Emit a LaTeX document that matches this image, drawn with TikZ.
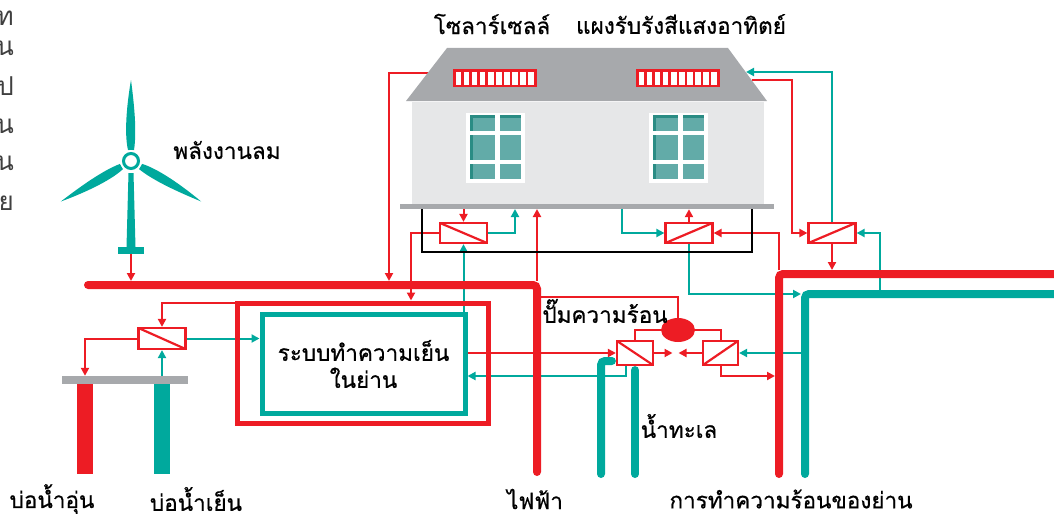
\documentclass[tikz,border=0pt]{standalone}
\usepackage{fontspec}
\newfontfamily\thai[Script=Thai, FakeBold=0.6]{Loma}
\newfontfamily\thaithin[Script=Thai]{Loma}
\usepackage{tikz}
\usetikzlibrary{arrows.meta}
\usetikzlibrary{calc}
\usetikzlibrary{shapes.geometric}

\definecolor{hot}{HTML}{ED1C24}
\definecolor{sea}{HTML}{00A99D}
\definecolor{roofgrey}{HTML}{A7A9AC}
\definecolor{wallgrey}{HTML}{E6E7E8}
\definecolor{pane}{HTML}{62ABA8}
\definecolor{panedark}{HTML}{2A8C84}

\pgfdeclarelayer{wires}
\pgfsetlayers{wires,main}

\begin{document}
\begin{tikzpicture}[x=1pt, y=-1pt, >={Triangle[length=8pt,width=8pt]},
    redline/.style={draw=hot, line width=2pt},
    tealline/.style={draw=sea, line width=2pt},
    hx/.style={draw=hot, fill=white, line width=2.2pt, inner sep=0pt,
      minimum width=47pt, minimum height=20pt},
    hxdown/.style={hx, path picture={\draw[hot, line width=2.2pt]
        (path picture bounding box.north west)
        -- (path picture bounding box.south east);}},
    hxup/.style={hx, path picture={\draw[hot, line width=2.2pt]
        (path picture bounding box.south west)
        -- (path picture bounding box.north east);}},
    pipe/.style={line width=8pt, line cap=round, rounded corners=4pt},
    thaitext/.style={font=\thai\fontsize{22.5}{27}\selectfont, inner sep=0pt},
    margintext/.style={font=\thaithin\fontsize{26}{28}\selectfont,
      text=black!75, inner sep=0pt, anchor=east}
  ]

  \useasboundingbox (0,0) rectangle (1054,519);

  % ends of a text column running off the left edge
  \foreach \ch/\ty in {ท/18, น/48, ป/86, น/126, น/163, ย/203}
    \node[margintext] (margin\ty) at (14,\ty) {\ch};

  % house: roof, wall, floor
  \fill[roofgrey] (447,48) -- (728,48) -- (767,101) -- (406,101) -- cycle;
  \node[fill=wallgrey, minimum width=352pt, minimum height=104pt,
    inner sep=0pt] (wall) at (588,154) {};
  \node[fill=roofgrey, minimum width=374pt, minimum height=5pt,
    inner sep=0pt] (floor) at (587,206.5) {};

  \foreach \wx in {466, 649} {
    \fill[white] (\wx,113) rectangle ++(59,70);
    \foreach \cx/\cw in {4/25, 34/21}
      \foreach \ry/\rh in {2/16, 22/25, 51/15}
        \fill[pane] ({\wx+\cx},{113+\ry}) rectangle ++(\cw,\rh);
    \foreach \ry/\rh in {2/16, 22/25, 51/15}
      \fill[panedark] ({\wx+4},{113+\ry}) rectangle ++(3,\rh);
    \foreach \cx/\cw in {4/25, 34/21}
      \fill[panedark] ({\wx+\cx},115) rectangle ++(\cw,3);
  }

  % solar cells and collector on the roof
  \foreach \px in {453, 636} {
    \fill[hot] (\px,69) rectangle ++(84,18);
    \foreach \i in {0,...,9}
      \fill[white] ({\px+3+\i*8.05},71.5) rectangle ++(5.3,13);
  }
  \coordinate (sunL) at (428,73);
  \coordinate (sunRout) at (752,80);
  \coordinate (sunRin) at (746,72);

  \node[thaitext] (celllabel) at (492,24) {โซลาร์เซลล์};
  \node[thaitext] (collectorlabel) at (681,24) {แผงรับรังสีแสงอาทิตย์};

  % wind turbine
  \begin{scope}[shift={(131,161)}]
    \foreach \a in {0,120,240}
      \fill[sea, rotate=\a] (-3,-11) .. controls (-7,-28) and (-4,-58) .. (0,-81)
        .. controls (3,-58) and (6,-30) .. (3,-11) -- cycle;
    \fill[sea] (-2.5,12) -- (2.5,12) -- (4.5,86) -- (-4.5,86) -- cycle;
    \fill[white] (0,0) circle (11);
    \draw[sea, line width=3pt] (0,0) circle (7.5);
  \end{scope}
  \node[fill=sea, minimum width=26pt, minimum height=7pt,
    inner sep=0pt] (base) at (131,250.5) {};
  \node[thaitext] (windlabel) at (227,150) {พลังงานลม};

  % wells
  \node[fill=roofgrey, minimum width=126pt, minimum height=8pt,
    inner sep=0pt] (wellbar) at (125,380) {};
  \node[fill=hot, minimum width=16pt, minimum height=90pt,
    inner sep=0pt] (hotwell) at (85,429) {};
  \node[fill=sea, minimum width=16pt, minimum height=90pt,
    inner sep=0pt] (coldwell) at (162,429) {};
  \node[thaitext] (hotlabel) at (52,499) {บ่อน้ำอุ่น};
  \node[thaitext] (coldlabel) at (196,499) {บ่อน้ำเย็น};

  % heat exchangers and pump
  \node[hxdown] (hxA) at (463.5,233) {};
  \node[hxup] (hxB) at (689,233) {};
  \node[hxup] (hxC) at (832,233) {};
  \node[hxdown, minimum height=21pt] (hxD) at (162,338.5) {};
  \node[hxdown, minimum width=36pt, minimum height=24pt] (hxE) at (635,353) {};
  \node[hxup, minimum width=35pt, minimum height=24pt] (hxF) at (720.5,353) {};
  \node[ellipse, fill=hot, minimum width=34pt, minimum height=24pt,
    inner sep=0pt] (pump) at (678,330) {};
  \node[thaitext] (pumplabel) at (605,311) {ปั๊มความร้อน};
  \coordinate (meet) at (675.5,353);

  % district cooling
  \node[draw=hot, line width=5pt, minimum width=251pt,
    minimum height=120pt] (coolout) at (362.5,363) {};
  \node[draw=sea, line width=5pt, minimum width=203pt, minimum height=99pt,
    thaitext, align=center] (cool) at (363.5,364)
    {ระบบทำความเย็น\\ในย่าน};

  \node[thaitext] (seawater) at (679,426) {น้ำทะเล};
  \node[thaitext] (power) at (535,499) {ไฟฟ้า};
  \node[thaitext] (heating) at (791,499) {การทำความร้อนของย่าน};

  \coordinate (ground) at (0,474);
  \coordinate (gridtop) at (0,281);
  \coordinate (heattop) at (0,270);

  \begin{pgfonlayer}{wires}
    % red circuits
    \draw[redline, ->] (base.south) -- (base.south |- gridtop);
    \draw[redline, ->] (sunL) -- (389,73) -- (389,281);
    \draw[redline, ->] (537,281) -- (537,209);
    \draw[redline, ->] (hxA.north |- floor.south) -- (hxA.north);
    \draw[redline, ->] (hxA.west) -- (411,233) -- (411,300.5);
    \draw[redline, ->] ([yshift=-2.5pt]coolout.north west) -| (hxD.north);
    \draw[redline, ->] (hxD.west) -| (hotwell |- wellbar.north);
    \draw[redline, ->] (cool.east |- hxE.west) -- (hxE.west);
    \draw[redline] (537,297) -| (pump.north);
    \draw[redline] (pump.west) -| (hxE.north);
    \draw[redline] (pump.east) -| (hxF.north);
    \draw[redline, ->] (hxE.east) -- ([xshift=-3pt]meet);
    \draw[redline, ->] (hxF.west) -- ([xshift=3pt]meet);
    \draw[redline, ->] (hxF.south) |- (775,376);
    \draw[redline, ->] (779,270) |- (hxB.east);
    \draw[redline, ->] (hxB.north) -- (hxB.north |- floor.south);
    \draw[redline, ->] (sunRout) -- (792,80) |- (hxC.west);
    \draw[redline, ->] (hxC.south) -- (hxC.south |- heattop);

    % teal circuits
    \draw[tealline, ->] (hxD.south |- wellbar.north) -- (hxD.south);
    \draw[tealline, ->] (hxD.east) -- (hxD.east -| cool.west);
    \draw[tealline, ->] (hxA.south |- cool.north) -- (hxA.south);
    \draw[tealline, ->] (hxA.east) -| (515,209);
    \draw[tealline, ->] ([xshift=-9pt]hxE.south) |- (cool.east |- 0,376);
    \draw[tealline, ->] (622,209) |- (hxB.west);
    \draw[tealline, ->] (hxB.south) |- (801,294);
    \draw[tealline, ->] (880,290) |- (hxC.east);
    \draw[tealline, ->] (hxC.north) |- (sunRin);
    \draw[tealline, ->] (801,353) -- (hxF.east);

    \draw[line width=2pt] (422,209) |- (752,252) -- (752,209);
  \end{pgfonlayer}

  % mains and pipes
  \draw[hot, pipe] (88,285) -- (537,285) -- (537,472);
  \draw[hot, pipe] (779,474) -- (779,274) -- (1062,274);
  \draw[sea, pipe] (805,474) -- (805,294) -- (1062,294);
  \draw[sea, pipe] (601,474) |- ([shift={(-4pt,-8pt)}]hxE.west);
  \draw[sea, pipe] ([yshift=-4pt]hxE.south) -- (hxE.south |- ground);

\end{tikzpicture}
\end{document}
